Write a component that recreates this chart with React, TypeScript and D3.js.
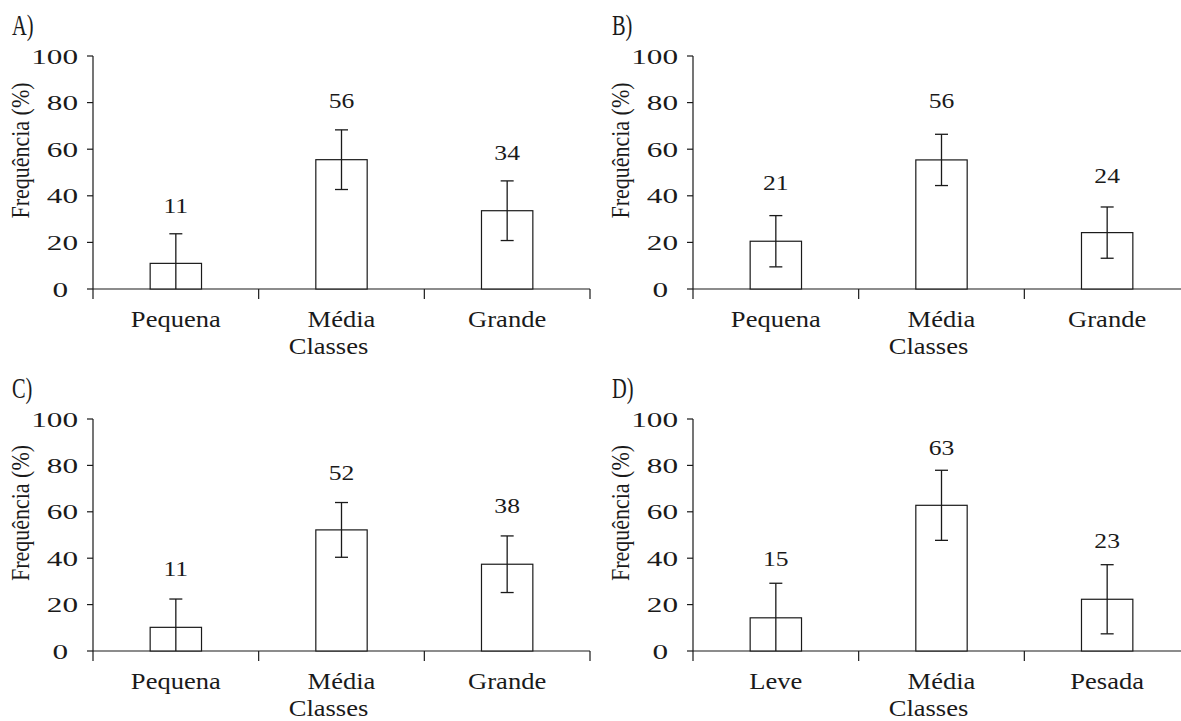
import React from "react";
import * as d3 from "d3";

const sizeCategories = ["Pequena", "Média", "Grande"];
const weightCategories = ["Leve", "Média", "Pesada"];

const valuesA = [11.0, 55.5, 33.6];
const errorsA = [12.7, 12.8, 12.8];
const labelsA = ["11", "56", "34"];

const valuesB = [20.5, 55.4, 24.2];
const errorsB = [11.0, 11.0, 11.0];
const labelsB = ["21", "56", "24"];

const valuesC = [10.2, 52.2, 37.4];
const errorsC = [12.2, 11.8, 12.2];
const labelsC = ["11", "52", "38"];

const valuesD = [14.3, 62.8, 22.3];
const errorsD = [14.9, 15.1, 14.9];
const labelsD = ["15", "63", "23"];

const yTicks = [0, 20, 40, 60, 80, 100];
const panelLetters = ["A)", "B)", "C)", "D)"];
const yTitle = "Frequência (%)";
const xTitle = "Classes";

const FONT = "'Liberation Serif', 'Times New Roman', serif";
const INK = "#1a1a1a";

type PanelProps = {
  letter: string;
  cats: string[];
  values: number[];
  errors: number[];
  labels: string[];
  ax: number;
  y0: number;
  y100: number;
};

function SText({
  x,
  y,
  sx,
  size,
  anchor,
  children,
}: {
  x: number;
  y: number;
  sx: number;
  size: number;
  anchor: "start" | "middle" | "end";
  children: React.ReactNode;
}) {
  return (
    <text
      transform={`translate(${x},${y}) scale(${sx},1)`}
      textAnchor={anchor}
      fontSize={size}
    >
      {children}
    </text>
  );
}

function Panel({ letter, cats, values, errors, labels, ax, y0, y100 }: PanelProps) {
  const axisLen = 497;
  const x = d3
    .scaleBand<string>()
    .domain(cats)
    .range([ax, ax + axisLen])
    .paddingInner(0.69)
    .paddingOuter(0.345);
  const y = d3.scaleLinear().domain([0, 100]).range([y0, y100]);
  const step = x.step();
  const bw = x.bandwidth();
  const capHalf = 6.5;
  const catBounds = d3.range(cats.length + 1).map((i) => ax + i * step);

  return (
    <g fontFamily={FONT} fill={INK}>
      {/* panel letter */}
      <SText x={ax - 81} y={y100 - 21} sx={0.68} size={30} anchor="start">
        {letter}
      </SText>
      {/* y title */}
      <text
        transform={`translate(${ax - 64},${(y0 + y100) / 2 - 22}) scale(1.15,1) rotate(-90)`}
        textAnchor="middle"
        fontSize={22}
      >
        {yTitle}
      </text>
      {/* y axis */}
      <line x1={ax} x2={ax} y1={y(0)} y2={y(100)} stroke={INK} strokeWidth={1.2} />
      {yTicks.map((t) => {
        const s = String(t);
        return (
          <g key={t}>
            <line x1={ax - 6} x2={ax} y1={y(t)} y2={y(t)} stroke={INK} strokeWidth={1.2} />
            <SText
              x={ax - 15 - (s.length === 1 ? 10 : 0)}
              y={y(t) + 7.5}
              sx={1.42}
              size={22}
              anchor="end"
            >
              {s}
            </SText>
          </g>
        );
      })}
      {/* x axis */}
      <line x1={ax} x2={ax + axisLen} y1={y(0)} y2={y(0)} stroke={INK} strokeWidth={1.2} />
      {catBounds.map((bx, i) => (
        <line key={i} x1={bx} x2={bx} y1={y(0)} y2={y(0) + 10} stroke={INK} strokeWidth={1.2} />
      ))}
      {cats.map((c) => (
        <SText key={c} x={(x(c) as number) + bw / 2} y={y(0) + 38} sx={1.13} size={23.5} anchor="middle">
          {c}
        </SText>
      ))}
      <SText x={ax + axisLen / 2 - 13} y={y(0) + 65} sx={1.13} size={23.5} anchor="middle">
        {xTitle}
      </SText>
      {/* bars */}
      {cats.map((c, i) => {
        const bx = x(c) as number;
        const cx = bx + bw / 2;
        const v = values[i];
        const e = errors[i];
        const lo = Math.max(0, v - e);
        const hi = v + e;
        return (
          <g key={c}>
            <rect
              x={bx}
              y={y(v)}
              width={bw}
              height={y(0) - y(v)}
              fill="#ffffff"
              stroke={INK}
              strokeWidth={1.2}
            />
            <line x1={cx} x2={cx} y1={y(lo)} y2={y(hi)} stroke={INK} strokeWidth={1.3} />
            <line x1={cx - capHalf} x2={cx + capHalf} y1={y(hi)} y2={y(hi)} stroke={INK} strokeWidth={1.3} />
            {v - e > 0 && (
              <line x1={cx - capHalf} x2={cx + capHalf} y1={y(lo)} y2={y(lo)} stroke={INK} strokeWidth={1.3} />
            )}
            <SText x={cx} y={y(+labels[i] + 21.5)} sx={1.22} size={21} anchor="middle">
              {labels[i]}
            </SText>
          </g>
        );
      })}
    </g>
  );
}

export default function App() {
  return (
    <svg
      width={1181}
      height={721}
      style={{ position: "absolute", left: 0, top: 0, background: "#ffffff" }}
    >
      <rect x={0} y={0} width={1181} height={721} fill="#ffffff" />
      <Panel letter={panelLetters[0]} cats={sizeCategories} values={valuesA} errors={errorsA} labels={labelsA} ax={93} y0={289} y100={56} />
      <Panel letter={panelLetters[1]} cats={sizeCategories} values={valuesB} errors={errorsB} labels={labelsB} ax={693} y0={289} y100={56} />
      <Panel letter={panelLetters[2]} cats={sizeCategories} values={valuesC} errors={errorsC} labels={labelsC} ax={93} y0={651} y100={419} />
      <Panel letter={panelLetters[3]} cats={weightCategories} values={valuesD} errors={errorsD} labels={labelsD} ax={693} y0={651} y100={419} />
    </svg>
  );
}
